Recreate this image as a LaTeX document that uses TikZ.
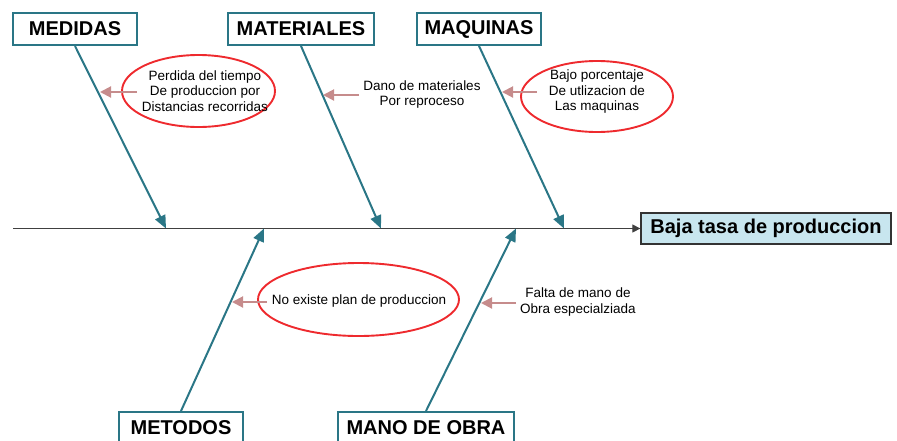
\documentclass[tikz,border=0pt]{standalone}
\usepackage{fontspec}
\setmainfont{Liberation Sans}
\usetikzlibrary{arrows.meta,shapes.geometric}
\definecolor{boneteal}{HTML}{2A7686}
\definecolor{ovalred}{HTML}{EE2A2E}
\definecolor{notepink}{HTML}{C68C8C}
\definecolor{effectblue}{HTML}{C8E6EF}
\tikzset{
    causebox/.style={
        draw=boneteal,
        line width=2pt,
        fill=white,
        minimum height=32,
        inner sep=0pt,
        font=\fontsize{20}{24}\selectfont\bfseries
    },
    effectbox/.style={
        draw=black!80,
        line width=1.3pt,
        fill=effectblue,
        minimum width=250,
        minimum height=31,
        inner sep=0pt,
        font=\fontsize{20}{24}\selectfont\bfseries
    },
    bone/.style={
        draw=boneteal,
        line width=2pt,
        -{Triangle[length=13pt,width=11pt]}
    },
    subarrow/.style={
        draw=notepink,
        line width=2pt,
        -{Triangle[length=11pt,width=11pt]}
    },
    causeoval/.style={
        draw=ovalred,
        line width=1.9pt,
        ellipse,
        inner sep=0pt
    },
    note/.style={
        align=center,
        inner sep=0pt,
        font=\fontsize{13.5}{15.5}\selectfont
    }
}

\begin{document}
\begin{tikzpicture}[x=1pt,y=-1pt]
                \useasboundingbox (0,0) rectangle (897,440);
                \clip (0,0) rectangle (897,440);
                % spine
                \node[effectbox] (efecto) at (766,228.5) {Baja tasa de produccion};
                \coordinate (S0) at (13,228.5);
                \draw[black!75, line width=1.2pt, -{Triangle[length=8pt,width=8pt]}] (S0) -- (efecto.west);
                % causes
                \node[causebox, minimum width=124] (medidas) at (75,29) {MEDIDAS};
                \node[causebox, minimum width=146] (materiales) at (301,29) {MATERIALES};
                \node[causebox, minimum width=124] (maquinas) at (479,29) {MAQUINAS};
                \node[causebox, minimum width=124] (metodos) at (181,428) {METODOS};
                \node[causebox, minimum width=176] (manoobra) at (426,428) {MANO DE OBRA};
                \coordinate (T1) at (166,228.5);
                \coordinate (T2) at (381,228.5);
                \coordinate (T3) at (564,228.5);
                \coordinate (T4) at (264,228.5);
                \coordinate (T5) at (516,228.5);
                \draw[bone] (medidas.south) -- (T1);
                \draw[bone] (materiales.south) -- (T2);
                \draw[bone] (maquinas.south) -- (T3);
                \draw[bone] (metodos.north) -- (T4);
                \draw[bone] (manoobra.north) -- (T5);
                % sub causes
                \node[causeoval, minimum width=153, minimum height=72] (oval1) at (198.5,91) {};
                \node[causeoval, minimum width=152, minimum height=71] (oval3) at (597,96.5) {};
                \node[causeoval, minimum width=201, minimum height=73] (oval4) at (358.5,299.5) {};
                \node[note] (perdida) at (205,91) {Perdida del tiempo\\De produccion por\\Distancias recorridas};
                \node[note] (dano) at (422,94.5) {Dano de materiales\\Por reproceso};
                \node[note] (bajo) at (597,92) {Bajo porcentaje\\De utlizacion de\\Las maquinas};
                \node[note] (noexiste) at (359,301) {No existe plan de produccion};
                \node[note] (falta) at (578,302) {Falta de mano de\\Obra especialziada};
                \coordinate (A1) at (137,92);
                \coordinate (B1) at (100,92);
                \coordinate (A2) at (359,95);
                \coordinate (B2) at (323,95);
                \coordinate (A3) at (537,92);
                \coordinate (B3) at (502,92);
                \coordinate (A4) at (267,302);
                \coordinate (B4) at (232,302);
                \coordinate (A5) at (516,303);
                \coordinate (B5) at (481,303);
                \draw[subarrow] (A1) -- (B1);
                \draw[subarrow] (A2) -- (B2);
                \draw[subarrow] (A3) -- (B3);
                \draw[subarrow] (A4) -- (B4);
                \draw[subarrow] (A5) -- (B5);
            \end{tikzpicture}
\end{document}
